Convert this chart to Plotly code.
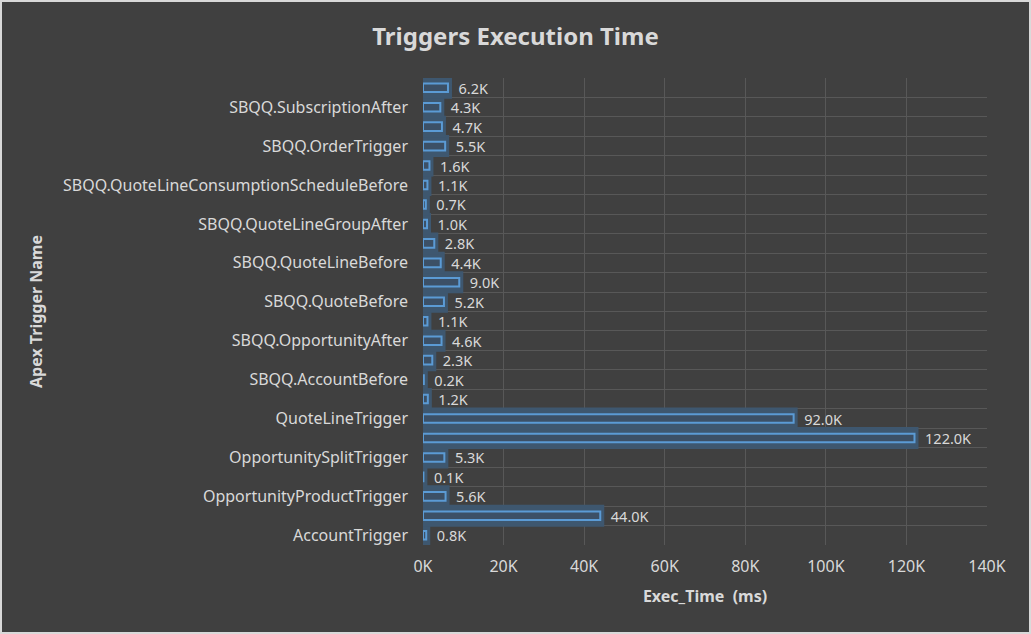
import plotly.graph_objects as go

# bottom to top, as in the chart
triggers = [
    "AccountTrigger",
    "ContactTrigger",
    "OpportunityProductTrigger",
    "OpportunityQuoteTrigger",
    "OpportunitySplitTrigger",
    "QuoteLineGroupTrigger",
    "QuoteLineTrigger",
    "QuoteTrigger",
    "SBQQ.AccountBefore",
    "SBQQ.ContractAfter",
    "SBQQ.OpportunityAfter",
    "SBQQ.OpportunityBefore",
    "SBQQ.QuoteBefore",
    "SBQQ.QuoteLineAfter",
    "SBQQ.QuoteLineBefore",
    "SBQQ.QuoteLineGroupBefore",
    "SBQQ.QuoteLineGroupAfter",
    "SBQQ.QuoteLineConsumptionScheduleAfter",
    "SBQQ.QuoteLineConsumptionScheduleBefore",
    "SBQQ.OrderProductTrigger",
    "SBQQ.OrderTrigger",
    "SBQQ.SubscriptionBefore",
    "SBQQ.SubscriptionAfter",
    "SBQQ.SubscriptionTrigger",
]
exec_time_ms = [
    800, 44000, 5600, 100, 5300, 122000, 92000, 1200,
    200, 2300, 4600, 1100, 5200, 9000, 4400, 2800,
    1000, 700, 1100, 1600, 5500, 4700, 4300, 6200,
]
x_ticks = [0, 20000, 40000, 60000, 80000, 100000, 120000, 140000]
x_tick_labels = ["0K", "20K", "40K", "60K", "80K", "100K", "120K", "140K"]

# Excel only shows every other category label
y_tick_labels = [t if i % 2 == 0 else "" for i, t in enumerate(triggers)]
bar_labels = [f"  {v / 1000:.1f}K" for v in exec_time_ms]

font = "Noto Sans"
light = "#d9d9d9"
grid = "#585858"

fig = go.Figure()

# soft glow behind each bar
fig.add_trace(
    go.Bar(
        x=exec_time_ms,
        y=triggers,
        orientation="h",
        width=0.72,
        marker=dict(color="#3e576f", line=dict(color="#3e576f", width=8)),
        hoverinfo="skip",
        showlegend=False,
    )
)

fig.add_trace(
    go.Bar(
        x=exec_time_ms,
        y=triggers,
        orientation="h",
        width=0.44,
        marker=dict(color="#3c5066", line=dict(color="#5b9bd5", width=2)),
        text=bar_labels,
        textposition="outside",
        constraintext="none",
        cliponaxis=False,
        textfont=dict(family=font, size=14.5, color=light),
        hovertemplate="%{y}: %{x} ms<extra></extra>",
        showlegend=False,
    )
)

fig.update_layout(
    width=1031,
    height=634,
    barmode="overlay",
    paper_bgcolor="#404040",
    plot_bgcolor="#404040",
    margin=dict(l=423, r=44, t=78, b=89),
    title=dict(
        text="<b>Triggers Execution Time</b>",
        x=0.5,
        xanchor="center",
        y=0.943,
        yanchor="middle",
        font=dict(family=font, size=24, color=light),
    ),
    font=dict(family=font, size=16, color=light),
)

fig.update_xaxes(
    range=[0, 140000],
    tickvals=x_ticks,
    ticktext=x_tick_labels,
    showgrid=True,
    gridcolor=grid,
    gridwidth=1,
    zeroline=True,
    zerolinecolor=grid,
    zerolinewidth=1,
    showline=False,
    ticks="",
    ticklabelstandoff=10,
    tickfont=dict(family=font, size=16, color=light),
    title=dict(
        text="<b>Exec_Time  (ms)</b>",
        standoff=14,
        font=dict(family=font, size=16, color=light),
    ),
)

fig.update_yaxes(
    type="category",
    categoryorder="array",
    categoryarray=triggers,
    tickvals=triggers,
    ticktext=y_tick_labels,
    tickson="boundaries",
    showgrid=True,
    gridcolor=grid,
    gridwidth=1,
    ticks="",
    showline=False,
    ticklabelstandoff=14,
    tickfont=dict(family=font, size=16, color=light),
    title=dict(
        text="<b>Apex Trigger Name</b>",
        standoff=16,
        font=dict(family=font, size=16, color=light),
    ),
)

# thin light frame round the chart, like the Excel export
fig.add_shape(
    type="rect",
    xref="paper",
    yref="paper",
    x0=-422 / 564,
    x1=1 + 43 / 564,
    y0=-88 / 467,
    y1=1 + 77 / 467,
    line=dict(color="#d9d9d9", width=2),
    layer="above",
)

fig.write_html(
    "out.html",
    config={"displayModeBar": False},
    post_script="document.body.style.margin='0';document.body.style.overflow='hidden';",
)
